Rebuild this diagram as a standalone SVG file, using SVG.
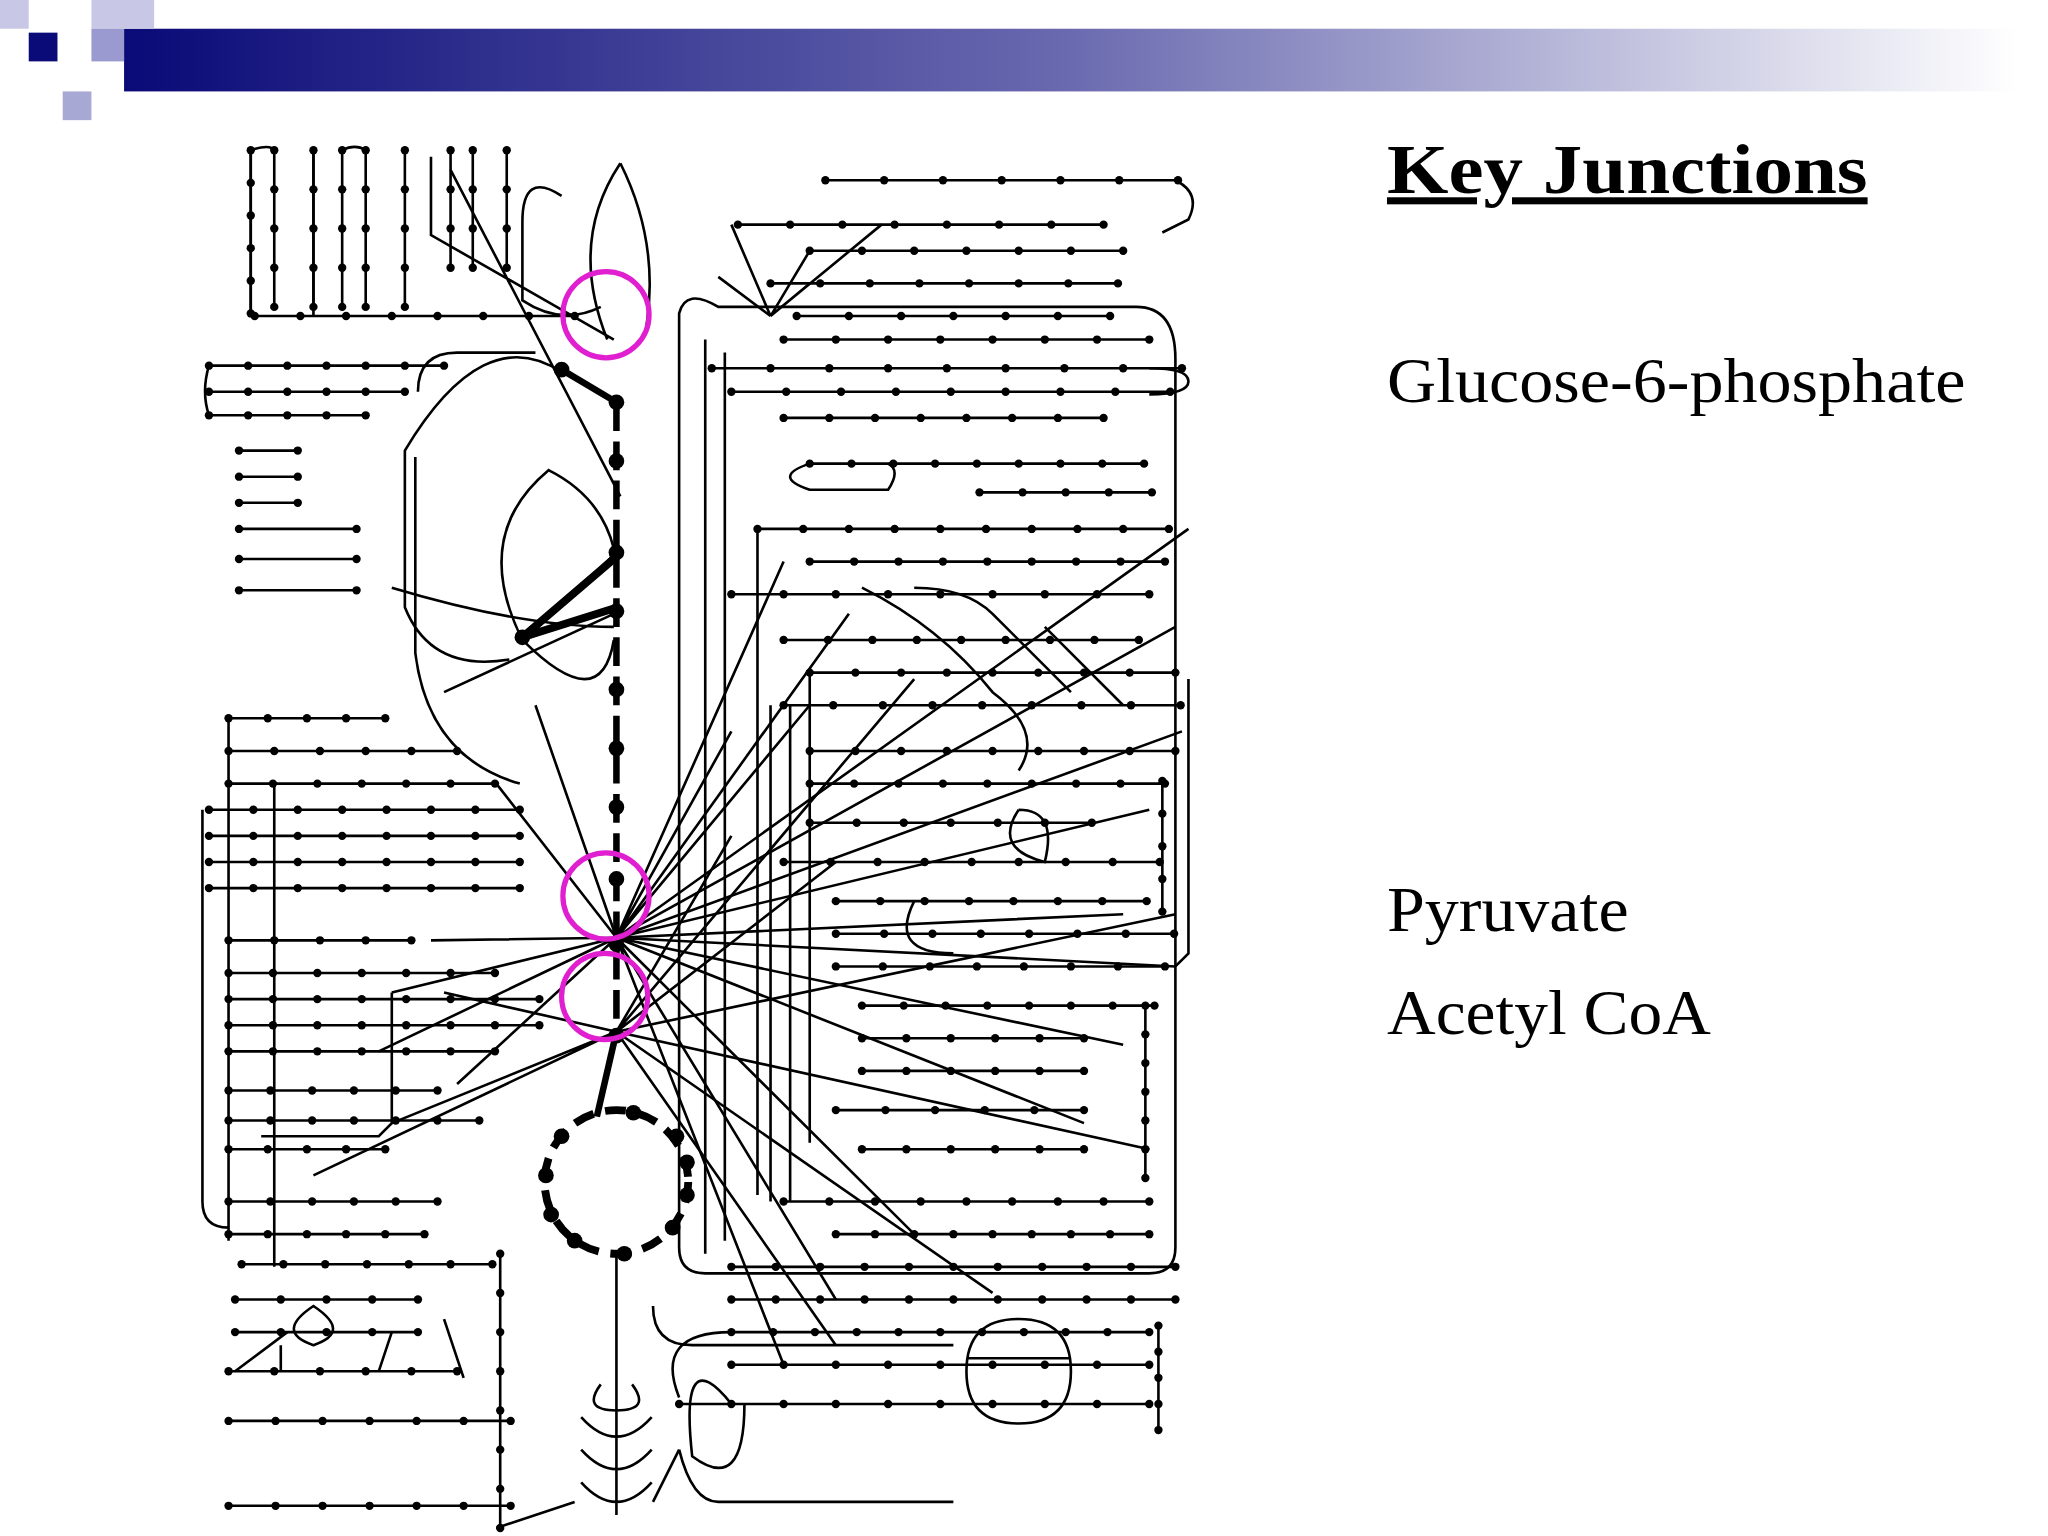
<svg xmlns="http://www.w3.org/2000/svg" width="2048" height="1536" viewBox="0 0 2048 1536">
<defs>
<linearGradient id="bar" x1="0" x2="1"><stop offset="0" stop-color="#0a0a78"/><stop offset="0.5" stop-color="#6a6ab0"/><stop offset="1" stop-color="#ffffff"/></linearGradient>
<marker id="d" markerWidth="8" markerHeight="8" refX="4" refY="4" markerUnits="userSpaceOnUse"><circle cx="4" cy="4" r="3.2" fill="#000"/></marker>
<marker id="D" markerWidth="14" markerHeight="14" refX="7" refY="7" markerUnits="userSpaceOnUse"><circle cx="7" cy="7" r="6" fill="#000"/></marker>
<style>
.r{fill:none;stroke:#000;stroke-width:2;marker-start:url(#d);marker-mid:url(#d);marker-end:url(#d)}
.l{fill:none;stroke:#000;stroke-width:2}
.t{font-family:"Liberation Serif",serif;fill:#000}
</style>
</defs>
<rect width="2048" height="1536" fill="#fff"/>
<g id="header" transform="scale(1.306)">
<rect x="95" y="22" width="1450" height="48" fill="url(#bar)"/>
<rect x="22" y="25" width="22" height="22" fill="#0a0a78"/>
<rect x="0" y="0" width="22" height="22" fill="#c8c8e6"/>
<rect x="70" y="0" width="48" height="22" fill="#c8c8e6"/>
<rect x="48" y="70" width="22" height="22" fill="#a8a8d4"/>
<rect x="70" y="22" width="25" height="25" fill="#9a9ad0"/>
</g>
<g id="texts" transform="scale(1.306)">
<text class="t" x="1062" y="148" font-size="54" font-weight="bold" text-decoration="underline" textLength="368" lengthAdjust="spacingAndGlyphs">Key Junctions</text>
<text class="t" x="1062" y="308" font-size="48" textLength="443" lengthAdjust="spacingAndGlyphs">Glucose-6-phosphate</text>
<text class="t" x="1062" y="713" font-size="48" textLength="185" lengthAdjust="spacingAndGlyphs">Pyruvate</text>
<text class="t" x="1062" y="792" font-size="48" textLength="248" lengthAdjust="spacingAndGlyphs">Acetyl CoA</text>
</g>
<g id="map" transform="scale(1.306)">
<g id="rows-right">
<path class="r" d="M632 138h45h45h45h45h45h45"/>
<path class="r" d="M565 172h40h40h40h40h40h40h40"/>
<path class="r" d="M620 192h40h40h40h40h40h40"/>
<path class="r" d="M590 217h38h38h38h38h38h38h38"/>
<path class="r" d="M610 242h40h40h40h40h40h40"/>
<path class="r" d="M600 260h40h40h40h40h40h40h40"/>
<path class="r" d="M545 282h45h45h45h45h45h45h45h45"/>
<path class="r" d="M560 300h42h42h42h42h42h42h42h42"/>
<path class="r" d="M600 320h35h35h35h35h35h35h35"/>
<path class="r" d="M620 355h32h32h32h32h32h32h32h32"/>
<path class="r" d="M750 377h33h33h33h33"/>
<path class="r" d="M580 405h35h35h35h35h35h35h35h35h35"/>
<path class="r" d="M620 430h34h34h34h34h34h34h34h34"/>
<path class="r" d="M560 455h40h40h40h40h40h40h40h40"/>
<path class="r" d="M600 490h34h34h34h34h34h34h34h34"/>
<path class="r" d="M620 515h35h35h35h35h35h35h35h35"/>
<path class="r" d="M600 540h38h38h38h38h38h38h38h38"/>
<path class="r" d="M620 575h35h35h35h35h35h35h35h35"/>
<path class="r" d="M620 600h34h34h34h34h34h34h34h34"/>
<path class="r" d="M620 630h36h36h36h36h36h36"/>
<path class="r" d="M600 660h36h36h36h36h36h36h36h36"/>
<path class="r" d="M640 690h34h34h34h34h34h34h34"/>
<path class="r" d="M640 715h37h37h37h37h37h37h37"/>
<path class="r" d="M640 740h36h36h36h36h36h36h36"/>
<path class="r" d="M660 770h32h32h32h32h32h32h32"/>
<path class="r" d="M660 795h34h34h34h34h34"/>
<path class="r" d="M660 820h34h34h34h34h34"/>
<path class="r" d="M640 850h38h38h38h38h38"/>
<path class="r" d="M660 880h34h34h34h34h34"/>
<path class="r" d="M600 920h35h35h35h35h35h35h35h35"/>
<path class="r" d="M640 945h30h30h30h30h30h30h30h30"/>
<path class="r" d="M560 970h34h34h34h34h34h34h34h34h34h34"/>
<path class="r" d="M560 995h34h34h34h34h34h34h34h34h34h34"/>
<path class="r" d="M560 1020h32h32h32h32h32h32h32h32h32h32"/>
<path class="r" d="M560 1045h40h40h40h40h40h40h40h40"/>
<path class="r" d="M520 1075h40h40h40h40h40h40h40h40h40"/>
<path class="r" d="M877 770v22v22v22v22v22v22"/>
<path class="r" d="M887 1015v20v20v20v20"/>
<path class="r" d="M890 598v25v25v25v25"/>
</g>
<g id="rows-left">
<path class="r" d="M195 242h35h35h35h35h35h35h35"/>
<path class="r" d="M192 115v25v25v25v25v25"/>
<path class="r" d="M210 115v30v30v30v30"/>
<path class="r" d="M240 115v30v30v30v30"/>
<path class="r" d="M262 115v30v30v30v30"/>
<path class="r" d="M280 115v30v30v30v30"/>
<path class="r" d="M310 115v30v30v30v30"/>
<path class="r" d="M345 115v30v30v30"/>
<path class="r" d="M362 115v30v30v30"/>
<path class="r" d="M388 115v30v30v30"/>
<path class="r" d="M160 280h30h30h30h30h30h30"/>
<path class="r" d="M160 300h30h30h30h30h30"/>
<path class="r" d="M160 318h30h30h30h30"/>
<path class="r" d="M183 345h45M183 365h45M183 385h45M183 405h90M183 428h90M183 452h90"/>
<path class="r" d="M175 550h30h30h30h30"/>
<path class="r" d="M175 575h35h35h35h35h35"/>
<path class="r" d="M175 600h34h34h34h34h34h34"/>
<path class="r" d="M160 620h34h34h34h34h34h34h34"/>
<path class="r" d="M160 640h34h34h34h34h34h34h34"/>
<path class="r" d="M160 660h34h34h34h34h34h34h34"/>
<path class="r" d="M160 680h34h34h34h34h34h34h34"/>
<path class="r" d="M175 720h35h35h35h35"/>
<path class="r" d="M175 745h34h34h34h34h34h34"/>
<path class="r" d="M175 765h34h34h34h34h34h34h34"/>
<path class="r" d="M175 785h34h34h34h34h34h34h34"/>
<path class="r" d="M175 805h34h34h34h34h34h34"/>
<path class="r" d="M175 835h32h32h32h32h32"/>
<path class="r" d="M175 858h32h32h32h32h32h32"/>
<path class="r" d="M175 880h30h30h30h30"/>
<path class="r" d="M175 920h32h32h32h32h32"/>
<path class="r" d="M175 945h30h30h30h30h30"/>
<path class="r" d="M185 968h32h32h32h32h32h32"/>
<path class="r" d="M180 995h35h35h35h35"/>
<path class="r" d="M180 1020h35h35h35h35"/>
<path class="r" d="M175 1050h35h35h35h35h35"/>
<path class="r" d="M175 1088h36h36h36h36h36h36"/>
<path class="r" d="M175 1153h36h36h36h36h36h36"/>
<path class="r" d="M383 960v30v30v30v30v30v30v30"/>
</g>
<g id="connectors">
<path class="l" d="M192 242V115q15-5 18 0M240 242V115M262 115q10-5 18 0M160 280q-6 20 0 38M175 550v400M155 620v300q0 20 20 20M210 600v370M300 760v100l-10 10H200"/>
<path class="l" d="M520 240q5-20 30-5h320q30 0 30 40v680q0 20-20 20H540q-20 0-20-20V260z"/>
<path class="l" d="M540 260v700M555 270v680M580 405v510M590 540v380M605 540v380M620 515v360"/>
<path class="l" d="M560 172l30 70M590 242l30-50M590 242l85-70M590 242l-40-30M590 242l30-25"/>
<path class="l" d="M900 138q20 10 10 30l-20 10M880 282q30 0 30 10t-30 10M620 355q-30 10 0 20h60q10-15 0-20M910 520v210l-10 10"/>
<path class="l" d="M475 125q-40 60-10 135M475 125q30 60 20 125M430 150q-30-20-30 20v60q30 20 60 5M330 120v60l140 80M345 130l130 250M320 300q0-30 30-30h60M430 285q-60-40-120 60v120q20 50 80 40M318 350v150q10 80 80 100"/>
<path class="l" d="M400 490q-40-80 20-130q40 20 50 60M400 490l70-65M400 490l70-25M400 490q60 60 70 0M340 530l130-60M300 450q100 30 170 30"/>
<path class="l" d="M472 718L910 405M472 718L900 480M472 718L905 560M472 718L880 620M472 718L860 700M472 718L900 740M472 718L860 800M472 718L830 860M472 718L700 945M472 718L640 995M472 718L600 1045M472 718L560 560M472 718L600 430M472 718L650 470M472 718L620 540M472 718L350 830M472 718L330 720M472 718L300 760M472 718L290 805M472 718L380 600M472 718L410 540"/>
<path class="l" d="M472 790L900 700M472 790L880 880M472 790L760 990M472 790L640 1030M472 790L300 860M472 790L240 900M472 790L340 760M472 790L560 640M472 790L700 520M472 790L640 660"/>
<path class="l" d="M472 960v200M460 1060q-15 20 12 20q27 0 12-20M445 1085q27 30 54 0M445 1110q27 30 54 0M445 1135q27 30 54 0M440 1150l-60 20M500 1150l20-40M520 1110q10 40 30 40h180"/>
<path class="l" d="M560 1075q-40-50-30 40q40 30 40-40M780 1010q40 0 40 40t-40 40t-40-40t40-40zM740 1040l80 0M500 1000q0 30 30 30h200M560 1020q-60 0-40 50"/>
<path class="l" d="M240 1000q-30 20 0 30q30-10 0-30zM215 1030v20M180 1050l40-30M300 1020l-10 30M340 1010l15 45"/>
<path class="l" d="M660 450q60 30 100 80q40 30 20 60M700 450q40 0 60 20t60 60M800 480l60 60M780 620q-20 30 20 40q10-40-20-40M700 690q-20 40 30 40"/>
</g>
<g id="main-path">
<path d="M430 283l42 25" stroke="#000" stroke-width="5" fill="none"/>
<path d="M472 308V790" stroke="#000" stroke-width="5" stroke-dasharray="22 8" fill="none" style="marker-start:url(#D)"/>
<path d="M472 308v45v70v45v60v45v45v55v50v70" fill="none" style="marker-mid:url(#D);marker-end:url(#D)"/>
<path d="M400 488l70-60M400 488l70-22" stroke="#000" stroke-width="6" fill="none"/>
<circle cx="400" cy="488" r="6"/><circle cx="430" cy="283" r="6"/>
<path d="M472 790l-15 65" stroke="#000" stroke-width="5" fill="none"/>
<circle cx="472" cy="905" r="55" fill="none" stroke="#000" stroke-width="6" stroke-dasharray="16 9"/>
<circle cx="478" cy="960" r="6"/><circle cx="515" cy="940" r="6"/><circle cx="526" cy="915" r="6"/><circle cx="526" cy="890" r="6"/><circle cx="518" cy="870" r="6"/><circle cx="485" cy="852" r="6"/><circle cx="430" cy="870" r="6"/><circle cx="418" cy="900" r="6"/><circle cx="422" cy="930" r="6"/><circle cx="440" cy="950" r="6"/>
</g>
<g id="highlights" fill="none" stroke="#e020d0" stroke-width="4">
<circle cx="464" cy="241" r="33"/>
<circle cx="464" cy="686" r="33"/>
<circle cx="463" cy="763" r="33"/>
</g>
</g>
</svg>
